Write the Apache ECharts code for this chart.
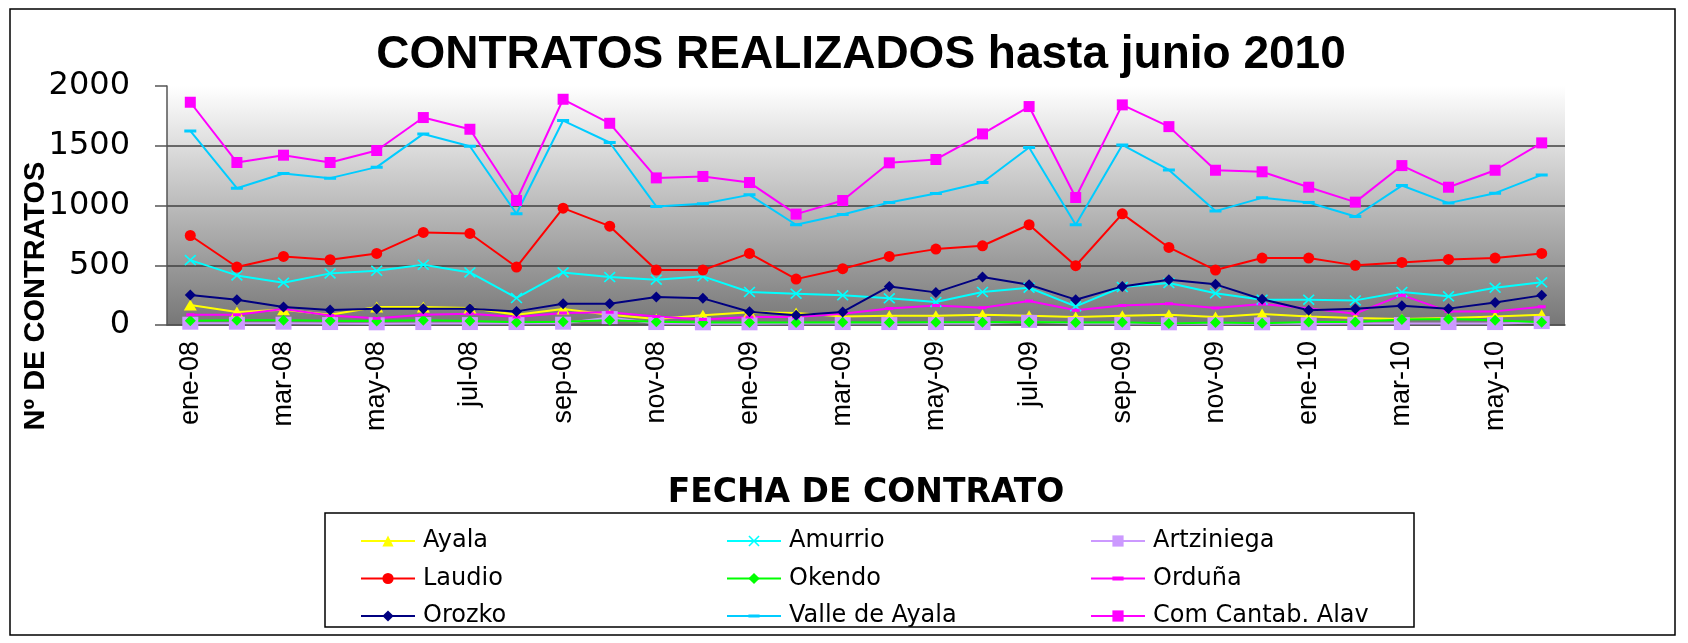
<!DOCTYPE html>
<html>
<head>
<meta charset="utf-8">
<script src="https://cdn.jsdelivr.net/npm/echarts@6/dist/echarts.min.js"></script>
<style>
  html, body { margin: 0; padding: 0; background: #fff; }
  #chart { width: 1688px; height: 643px; }
</style>
</head>
<body>
<div id="chart"></div>
<script>
// meses de ene-08 a jun-10
var months = ['ene-08', 'feb-08', 'mar-08', 'abr-08', 'may-08', 'jun-08', 'jul-08', 'ago-08', 'sep-08', 'oct-08', 'nov-08', 'dic-08',
  'ene-09', 'feb-09', 'mar-09', 'abr-09', 'may-09', 'jun-09', 'jul-09', 'ago-09', 'sep-09', 'oct-09', 'nov-09', 'dic-09',
  'ene-10', 'feb-10', 'mar-10', 'abr-10', 'may-10', 'jun-10']

var ayala = [167, 108, 128, 86, 150, 150, 142, 86, 133, 86, 50, 81, 106, 100, 72, 78, 78, 86, 78, 67, 78, 86, 67, 92, 72, 58, 50, 58, 72, 86]
var amurrio = [543, 415, 354, 432, 454, 504, 440, 226, 440, 401, 379, 407, 276, 262, 248, 223, 192, 276, 312, 156, 318, 351, 265, 212, 212, 206, 276, 240, 312, 357]
var artziniega = [15, 15, 15, 12, 10, 12, 12, 12, 15, 62, 12, 10, 10, 12, 12, 12, 12, 12, 30, 12, 12, 10, 10, 10, 10, 12, 12, 12, 12, 20]
var laudio = [749, 485, 574, 546, 599, 775, 766, 485, 978, 827, 460, 460, 599, 384, 471, 574, 635, 663, 839, 496, 930, 649, 460, 560, 560, 499, 524, 549, 560, 599]
var okendo = [36, 39, 39, 36, 33, 39, 33, 22, 28, 39, 28, 20, 20, 20, 22, 20, 22, 22, 25, 20, 22, 12, 20, 14, 25, 25, 45, 50, 39, 22]
var orduna = [86, 86, 133, 80, 56, 86, 94, 67, 100, 106, 72, 45, 67, 67, 95, 139, 164, 145, 201, 123, 164, 178, 142, 176, 139, 95, 250, 114, 114, 153]
var orozko = [251, 212, 150, 125, 137, 137, 137, 114, 178, 178, 234, 223, 111, 81, 109, 323, 273, 401, 337, 212, 323, 379, 340, 215, 123, 137, 162, 137, 189, 248]
var valleAyala = [1624, 1145, 1268, 1229, 1321, 1599, 1496, 931, 1711, 1527, 992, 1014, 1089, 839, 925, 1025, 1100, 1192, 1485, 839, 1507, 1298, 953, 1064, 1025, 908, 1167, 1020, 1103, 1256]
var comCantab = [1864, 1360, 1421, 1360, 1460, 1736, 1638, 1042, 1889, 1688, 1231, 1243, 1192, 928, 1042, 1357, 1385, 1599, 1828, 1067, 1842, 1660, 1295, 1282, 1153, 1028, 1334, 1153, 1295, 1524]

var yTicks = [0, 500, 1000, 1500, 2000]

// marcadores propios (los guiones llevan puntos minimos en las esquinas para que la caja sea cuadrada)
var cross = 'path://M0,1L1,0L5,4L9,0L10,1L6,5L10,9L9,10L5,6L1,10L0,9L4,5Z'
var dashShort = 'path://M0,0L0.01,0L0,0.01Z M0,2.5L8,2.5L8,5.5L0,5.5Z M8,8L7.99,8L8,7.99Z'
var dashLong = 'path://M0,0L0.01,0L0,0.01Z M0,4.5L12,4.5L12,7.5L0,7.5Z M12,12L11.99,12L12,11.99Z'

function serie(name, data, color, symbol, size) {
  return {
    name: name,
    type: 'line',
    data: data,
    animation: false,
    symbol: symbol,
    symbolSize: size,
    showAllSymbol: true,
    lineStyle: { color: color, width: 2 },
    itemStyle: { color: color, borderWidth: 0 }
  }
}

var myChart = echarts.init(document.getElementById('chart'))
var legendBase = {
  orient: 'vertical',
  top: 522,
  itemWidth: 54,
  itemHeight: 14,
  itemGap: 9.5,
  textStyle: { fontFamily: 'DejaVu Sans', fontSize: 24, lineHeight: 28, color: '#000', padding: [0, 0, 0, 3] }
}

var option = {
  backgroundColor: '#fff',
  title: {
    text: 'CONTRATOS REALIZADOS hasta junio 2010',
    left: 856,
    textAlign: 'center',
    top: 27,
    textStyle: { fontFamily: 'Liberation Sans', fontWeight: 'bold', fontSize: 46, color: '#000' }
  },
  legend: [
    Object.assign({ left: 355, data: ['Ayala', 'Laudio', 'Orozko'] }, legendBase),
    Object.assign({ left: 721, data: ['Amurrio', 'Okendo', 'Valle de Ayala'] }, legendBase),
    Object.assign({ left: 1085, data: ['Artziniega', 'Orduña', 'Com Cantab. Alav'] }, legendBase)
  ],
  grid: {
    left: 167,
    right: 123,
    top: 86,
    bottom: 318,
    show: true,
    borderWidth: 0,
    backgroundColor: new echarts.graphic.LinearGradient(0, 0, 0, 1, [
      { offset: 0, color: '#ffffff' },
      { offset: 1, color: '#777777' }
    ])
  },
  xAxis: {
    type: 'category',
    data: months,
    boundaryGap: true,
    name: 'FECHA DE CONTRATO',
    nameLocation: 'middle',
    nameGap: 152,
    nameTextStyle: { fontFamily: 'DejaVu Sans', fontWeight: 'bold', fontSize: 33, color: '#000' },
    axisLine: { lineStyle: { color: '#555', width: 1.5 } },
    axisTick: { interval: 1, length: 13, lineStyle: { color: '#555', width: 1.5 } },
    axisLabel: { interval: 1, rotate: 90, margin: 16, fontFamily: 'Liberation Sans', fontSize: 27, color: '#000' },
    splitLine: { show: false }
  },
  yAxis: {
    type: 'value',
    min: yTicks[0],
    max: yTicks[yTicks.length - 1],
    interval: 500,
    axisLine: { show: true, lineStyle: { color: '#555', width: 1.5 } },
    axisTick: { show: true, length: 12, lineStyle: { color: '#555', width: 1.5 } },
    axisLabel: {
      margin: 37,
      fontFamily: 'DejaVu Sans',
      fontSize: 32,
      color: '#000',
      formatter: function (v) { return String(v) }
    },
    splitLine: { show: true, showMaxLine: false, lineStyle: { color: '#404040', width: 1.5 } }
  },
  graphic: [
    // marco exterior
    { type: 'rect', shape: { x: 10, y: 9, width: 1665, height: 626 }, style: { fill: 'none', stroke: '#000', lineWidth: 1.5 }, silent: true },
    // marco de la leyenda
    { type: 'rect', shape: { x: 325, y: 513, width: 1089, height: 114 }, style: { fill: 'none', stroke: '#000', lineWidth: 1.5 }, silent: true },
    {
      type: 'text',
      x: 36,
      y: 296,
      rotation: Math.PI / 2,
      style: { text: 'Nº DE CONTRATOS', font: 'bold 29px "Liberation Sans"', fill: '#000', align: 'center', verticalAlign: 'middle' },
      silent: true
    }
  ],
  series: [
    serie('Ayala', ayala, '#FFFF00', 'triangle', [13, 11]),
    serie('Amurrio', amurrio, '#00FFFF', cross, [12, 11]),
    serie('Artziniega', artziniega, '#CC99FF', 'rect', [16, 13]),
    serie('Laudio', laudio, '#FF0000', 'circle', 11),
    serie('Okendo', okendo, '#00FF00', 'diamond', [11, 11]),
    serie('Orduña', orduna, '#FF00FF', dashShort, 8),
    serie('Orozko', orozko, '#000080', 'diamond', [11, 11]),
    serie('Valle de Ayala', valleAyala, '#00CCFF', dashLong, 12),
    serie('Com Cantab. Alav', comCantab, '#FF00FF', 'rect', [11, 11])
  ]
}
option && myChart.setOption(option)
</script>
</body>
</html>
